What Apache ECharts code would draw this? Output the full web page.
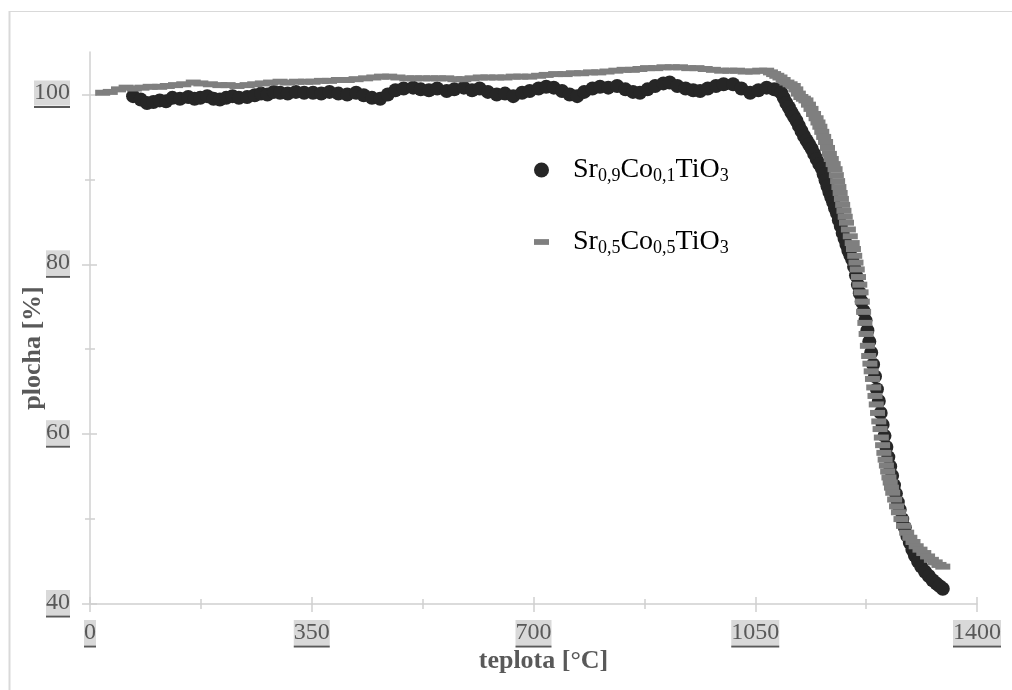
<!DOCTYPE html>
<html>
<head>
<meta charset="utf-8">
<script src="https://cdn.jsdelivr.net/npm/echarts@6/dist/echarts.min.js"></script>
<style>
  html, body { margin: 0; padding: 0; background: #ffffff; }
  #chart { width: 1012px; height: 690px; }
</style>
</head>
<body>
<div id="chart"></div>
<script>
// Series names (digits become subscripts in the legend)
const seriesNames = ['Sr0,9Co0,1TiO3', 'Sr0,5Co0,5TiO3'];

// Axis titles and tick values
const xTitle = 'teplota [°C]';
const yTitle = 'plocha [%]';
const xTicks = [0, 350, 700, 1050, 1400];
const yTicks = [40, 60, 80, 100];
const yMinorTicks = [50, 70, 90];

// Sr0,9Co0,1TiO3 — temperature [°C] and area [%]
const tempA = [68, 80, 90, 100, 110, 120, 130, 142, 155, 165, 174, 185, 195, 205, 215, 225, 235, 248, 260, 270,
  280, 290, 300, 312, 325, 338, 352, 365, 378, 392, 406, 420, 432, 445, 458, 470, 482, 495, 510, 522,
  535, 548, 563, 575, 590, 603, 615, 628, 642, 655, 668, 682, 694, 708, 720, 732, 745, 757, 769, 780,
  793, 805, 818, 832, 845, 857, 868, 880, 892, 905, 915, 927, 940, 952, 963, 975, 988, 1000, 1015, 1028,
  1042, 1055, 1068, 1080, 1086, 1091, 1095, 1099, 1103, 1107, 1111, 1115, 1119, 1123, 1127, 1131, 1135, 1139, 1143, 1147,
  1151, 1155, 1158, 1161, 1164, 1167, 1170, 1173, 1176, 1179, 1182, 1185, 1188, 1191, 1194, 1197, 1200, 1203, 1206, 1209,
  1212, 1215, 1218, 1221, 1224, 1227, 1230, 1233, 1236, 1239, 1242, 1245, 1248, 1251, 1254, 1257, 1260, 1263, 1266, 1269,
  1272, 1275, 1278, 1282, 1286, 1290, 1294, 1298, 1302, 1307, 1312, 1318, 1324, 1330, 1336, 1341, 1346];
const areaA = [99.8, 99.4, 99.0, 99.1, 99.3, 99.2, 99.6, 99.5, 99.7, 99.5, 99.6, 99.8, 99.5, 99.4, 99.6, 99.8, 99.6, 99.7, 99.9, 100.1,
  100.0, 100.3, 100.2, 100.1, 100.3, 100.2, 100.2, 100.1, 100.3, 100.1, 100.0, 100.2, 99.9, 99.6, 99.5, 100.0, 100.5, 100.7, 100.8, 100.6,
  100.5, 100.7, 100.4, 100.6, 100.8, 100.5, 100.7, 100.3, 100.0, 100.1, 99.8, 100.2, 100.4, 100.7, 100.9, 100.8, 100.4, 100.0, 99.8, 100.3,
  100.7, 100.9, 100.8, 101.0, 100.6, 100.3, 100.2, 100.6, 101.0, 101.3, 101.4, 101.0, 100.7, 100.5, 100.4, 100.7, 101.0, 101.2, 101.2, 100.7,
  100.2, 100.5, 100.8, 100.6, 100.5, 100.2, 99.6, 99.0, 98.5, 97.9, 97.4, 96.9, 96.3, 95.7, 95.1, 94.6, 94.1, 93.6, 93.0, 92.4,
  91.8, 91.3, 90.6, 89.9, 89.2, 88.5, 87.9, 87.3, 86.6, 86.0, 85.2, 84.5, 83.7, 83.0, 82.3, 81.6, 81.1, 80.6, 79.7, 78.7,
  77.6, 76.6, 75.6, 74.5, 73.4, 72.2, 70.9, 69.6, 68.2, 66.8, 65.3, 63.9, 62.5, 61.1, 59.8, 58.5, 57.3, 56.2, 55.1, 54.0,
  53.0, 52.0, 51.1, 50.0, 49.0, 48.0, 47.2, 46.4, 45.7, 45.0, 44.4, 43.8, 43.3, 42.8, 42.4, 42.1, 41.8];

// Sr0,5Co0,5TiO3 — temperature [°C] and area [%]
const tempB = [20, 32, 45, 57, 70, 82, 95, 110, 122, 135, 148, 163, 175, 190, 205, 218, 232, 248, 260, 272,
  285, 300, 312, 326, 340, 352, 365, 378, 392, 406, 420, 435, 448, 460, 473, 486, 500, 512, 525, 538,
  550, 563, 576, 590, 603, 616, 628, 642, 655, 668, 680, 694, 708, 720, 735, 750, 763, 776, 790, 803,
  816, 830, 843, 856, 868, 880, 893, 906, 919, 932, 945, 958, 971, 984, 997, 1010, 1022, 1034, 1046, 1057,
  1068, 1074, 1079, 1084, 1089, 1094, 1100, 1105, 1110, 1114, 1118, 1122, 1126, 1130, 1134, 1138, 1142, 1146, 1149, 1152,
  1155, 1158, 1161, 1164, 1167, 1170, 1173, 1176, 1178, 1180, 1182, 1184, 1186, 1188, 1190, 1192, 1194, 1197, 1200, 1203,
  1205, 1207, 1209, 1211, 1213, 1215, 1217, 1219, 1221, 1223, 1225, 1227, 1229, 1231, 1233, 1235, 1237, 1239, 1241, 1243,
  1245, 1247, 1249, 1251, 1253, 1255, 1257, 1259, 1261, 1263, 1265, 1267, 1270, 1273, 1276, 1280, 1284, 1289, 1294, 1299,
  1304, 1310, 1316, 1322, 1328, 1334, 1340, 1346];
const areaB = [100.2, 100.3, 100.6, 100.8, 100.7, 100.8, 100.9, 100.9, 101.0, 101.1, 101.2, 101.4, 101.3, 101.2, 101.1, 101.1, 101.0, 101.1, 101.2, 101.3,
  101.4, 101.5, 101.4, 101.5, 101.5, 101.5, 101.6, 101.6, 101.7, 101.7, 101.8, 101.9, 102.0, 102.1, 102.1, 102.0, 101.9, 101.9, 101.9, 101.9,
  101.9, 101.9, 101.8, 101.8, 101.9, 102.0, 102.0, 102.0, 102.0, 102.1, 102.1, 102.1, 102.2, 102.3, 102.4, 102.4, 102.5, 102.5, 102.6, 102.6,
  102.7, 102.8, 102.9, 102.9, 103.0, 103.1, 103.1, 103.2, 103.2, 103.2, 103.1, 103.1, 103.0, 102.9, 102.8, 102.8, 102.8, 102.7, 102.7, 102.8,
  102.8, 102.6, 102.4, 102.2, 102.0, 101.7, 101.4, 101.2, 101.0, 100.6, 100.1, 99.7, 99.5, 99.3, 98.8, 98.3, 97.7, 97.2, 96.7, 96.2,
  95.6, 95.0, 94.4, 93.7, 93.0, 92.4, 91.8, 91.2, 90.5, 89.8, 89.1, 88.4, 87.7, 87.0, 86.3, 85.6, 84.9, 84.1, 83.3, 82.5,
  81.8, 81.0, 80.2, 79.4, 78.5, 77.6, 76.7, 75.6, 74.4, 73.1, 71.8, 70.4, 69.2, 68.3, 67.4, 66.5, 65.5, 64.5, 63.5, 62.5,
  61.5, 60.6, 59.6, 58.7, 57.8, 57.0, 56.3, 55.6, 54.9, 54.3, 53.7, 53.1, 52.3, 51.5, 50.8, 50.0, 49.2, 48.4, 47.8, 47.3,
  46.8, 46.4, 46.0, 45.6, 45.2, 44.9, 44.6, 44.4];

const serif = 'Liberation Serif, Times New Roman, serif';
const axisGrey = '#595959';
const lineGrey = '#d0d0d0';

// Tick labels: highlighted box with an underline below it
function boxedLabel(v) {
  const s = String(v);
  return '{b|' + s + '}\n{u' + s.length + '| }';
}
const tickRich = {
  b: { fontFamily: serif, fontSize: 24, color: axisGrey, backgroundColor: '#d9d9d9', height: 25, lineHeight: 25 },
  u1: { width: 12, height: 2, lineHeight: 3, fontSize: 2, backgroundColor: axisGrey },
  u2: { width: 24, height: 2, lineHeight: 3, fontSize: 2, backgroundColor: axisGrey },
  u3: { width: 36, height: 2, lineHeight: 3, fontSize: 2, backgroundColor: axisGrey },
  u4: { width: 48, height: 2, lineHeight: 3, fontSize: 2, backgroundColor: axisGrey }
};

// Legend text: chemical formula with subscripted stoichiometry
function formulaRich(name) {
  const parts = name.split(/(\d[\d,]*)/).filter(p => p.length);
  return '{g| }' + parts.map(p => /^\d/.test(p) ? '{s|' + p + '}' : '{n|' + p + '}').join('');
}

const X_MIN = 0, X_MAX = 1400, Y_MIN = 40, Y_MAX = 105;

function xAxisCfg(inside, primary) {
  return {
    type: 'value', min: X_MIN, max: X_MAX, interval: 350, position: 'bottom',
    axisLine: { show: primary, lineStyle: { color: lineGrey, width: 1.5 } },
    axisTick: { show: true, inside: inside, length: inside ? 7 : 8, lineStyle: { color: lineGrey, width: 1.5 } },
    minorTick: { show: true, splitNumber: 2, length: 5, lineStyle: { color: lineGrey, width: 1.5 } },
    axisLabel: primary ? { show: true, margin: 16, formatter: boxedLabel, rich: tickRich } : { show: false },
    splitLine: { show: false },
    name: primary ? xTitle : '',
    nameLocation: 'middle', nameGap: 44, nameMoveOverlap: false,
    nameTextStyle: { fontFamily: serif, fontSize: 26, fontWeight: 'bold', color: axisGrey, padding: [0, 0, 0, 20] }
  };
}
function yAxisCfg(inside, ticks, len, primary) {
  return {
    type: 'value', min: Y_MIN, max: Y_MAX, position: 'left',
    axisLine: { show: primary, lineStyle: { color: lineGrey, width: 1.5 } },
    axisTick: { show: true, inside: inside, length: len, customValues: ticks, lineStyle: { color: lineGrey, width: 1.5 } },
    axisLabel: primary ? { show: true, margin: 20, customValues: yTicks, formatter: boxedLabel, rich: tickRich } : { show: false },
    splitLine: { show: false },
    name: primary ? yTitle : '',
    nameLocation: 'middle', nameGap: 44, nameRotate: 90, nameMoveOverlap: false,
    nameTextStyle: { fontFamily: serif, fontSize: 26, fontWeight: 'bold', color: axisGrey, padding: [0, 40, 0, 0] }
  };
}

const chart = echarts.init(document.getElementById('chart'), null, { renderer: 'canvas' });
chart.setOption({
  animation: false,
  backgroundColor: '#ffffff',
  grid: { left: 90, right: 35, top: 52, bottom: 86, containLabel: false, outerBoundsMode: 'none' },
  xAxis: [xAxisCfg(false, true), xAxisCfg(true, false)],
  yAxis: [
    yAxisCfg(false, yTicks, 8, true),
    yAxisCfg(true, yTicks, 7, false),
    yAxisCfg(false, yMinorTicks, 5, false),
    yAxisCfg(true, yMinorTicks, 5, false)
  ],
  legend: {
    orient: 'vertical', left: 534, top: 156, padding: 0, itemGap: 43,
    itemWidth: 15, itemHeight: 15,
    data: [
      { name: seriesNames[0], icon: 'circle' },
      { name: seriesNames[1], icon: 'path://M0,0h13v5h-13z' }
    ],
    formatter: formulaRich,
    textStyle: {
      rich: {
        g: { width: 19, fontSize: 2 },
        n: { fontFamily: serif, fontSize: 28, color: '#000000', lineHeight: 30 },
        s: { fontFamily: serif, fontSize: 18, color: '#000000', lineHeight: 14, verticalAlign: 'bottom' }
      }
    }
  },
  graphic: [
    { type: 'line', silent: true, shape: { x1: 9.5, y1: 11, x2: 9.5, y2: 700 }, style: { stroke: '#d9d9d9', lineWidth: 2 } },
    { type: 'line', silent: true, shape: { x1: 9, y1: 11.5, x2: 1020, y2: 11.5 }, style: { stroke: '#d9d9d9', lineWidth: 1 } }
  ],
  series: [
    {
      name: seriesNames[0], type: 'scatter', xAxisIndex: 0, yAxisIndex: 0,
      symbol: 'circle', symbolSize: 14,
      itemStyle: { color: '#262626', opacity: 1 },
      data: tempA.map((t, i) => [t, areaA[i]])
    },
    {
      name: seriesNames[1], type: 'scatter', xAxisIndex: 0, yAxisIndex: 0,
      symbol: 'rect', symbolSize: [15, 6],
      itemStyle: { color: '#7f7f7f', opacity: 1 },
      data: tempB.map((t, i) => [t, areaB[i]])
    }
  ]
});
</script>
</body>
</html>
